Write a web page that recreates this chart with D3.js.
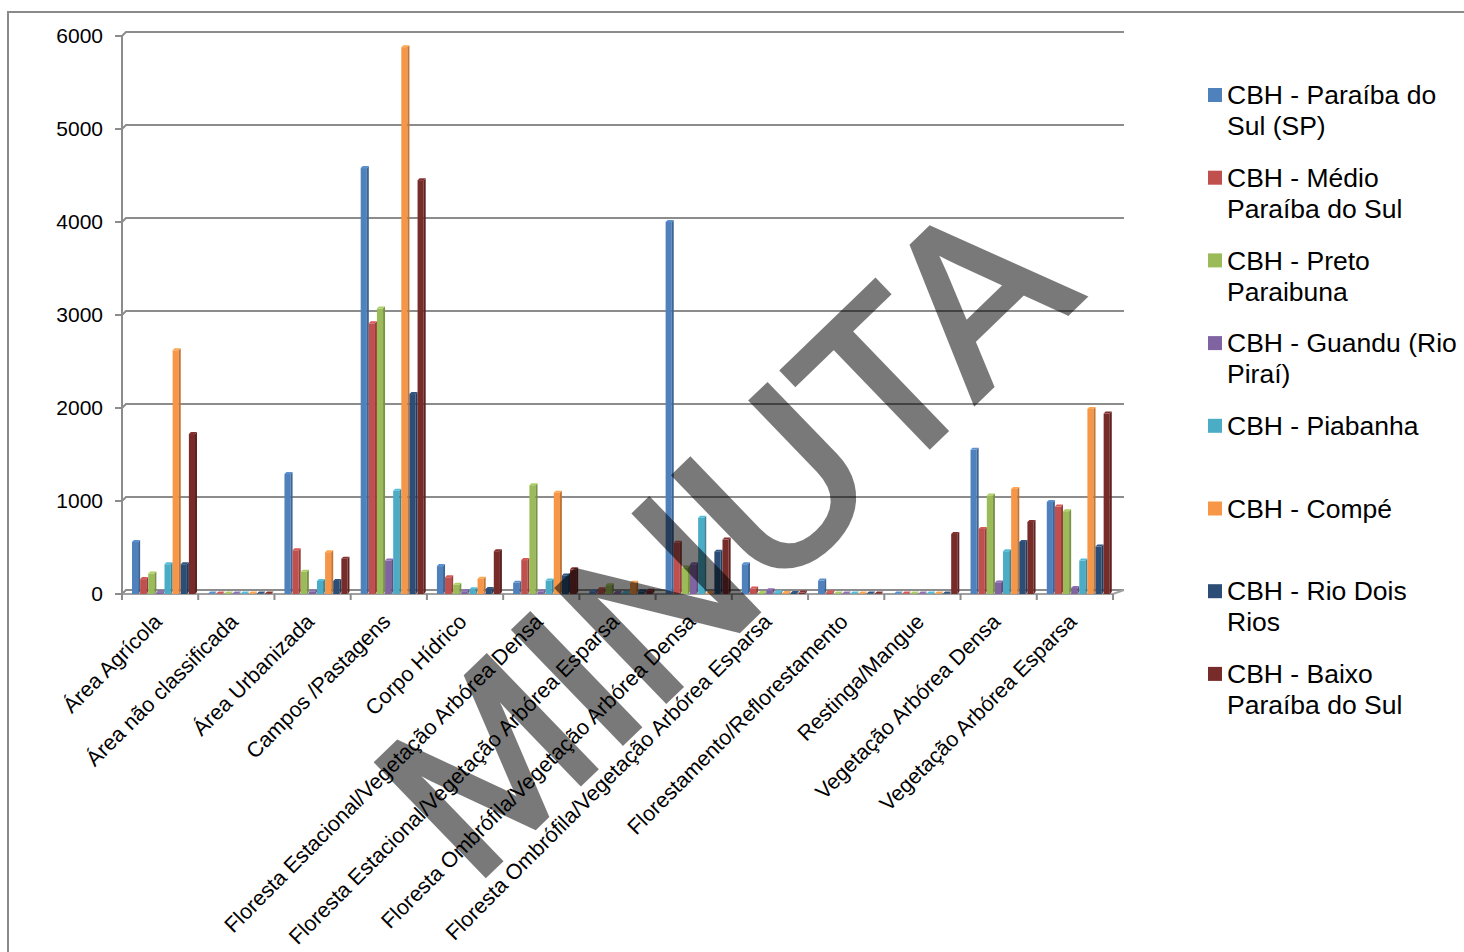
<!DOCTYPE html>
<html>
<head>
<meta charset="utf-8">
<script src="https://cdn.jsdelivr.net/npm/d3@7"></script>
<style>
  html, body { margin: 0; padding: 0; background: #fff; }
  svg { display: block; font-family: "Liberation Sans", Arial, sans-serif; }
</style>
</head>
<body>
<div id="chart"></div>
<script>
const categories= [
  'Área Agrícola',
  'Área não classificada',
  'Área Urbanizada',
  'Campos /Pastagens',
  'Corpo Hídrico',
  'Floresta Estacional/Vegetação Arbórea Densa',
  'Floresta Estacional/Vegetação Arbórea Esparsa',
  'Floresta Ombrófila/Vegetação Arbórea Densa',
  'Floresta Ombrófila/Vegetação Arbórea Esparsa',
  'Florestamento/Reflorestamento',
  'Restinga/Mangue',
  'Vegetação Arbórea Densa',
  'Vegetação Arbórea Esparsa',
];

const seriesNames= [
  ['CBH - Paraíba do', 'Sul (SP)'],
  ['CBH - Médio', 'Paraíba do Sul'],
  ['CBH - Preto', 'Paraibuna'],
  ['CBH - Guandu (Rio', 'Piraí)'],
  ['CBH - Piabanha'],
  ['CBH - Compé'],
  ['CBH - Rio Dois', 'Rios'],
  ['CBH - Baixo', 'Paraíba do Sul'],
];

const seriesColors= ['#4f81bd', '#c0504d', '#9bbb59', '#8064a2', '#4bacc6', '#f79646', '#2c4d75', '#772c2a'];

const paraibaSP=  [560, 5, 1290, 4580, 300, 120, 30, 4000, 320, 145, 5, 1550, 990];
const medio=      [160, 5, 470, 2910, 180, 365, 50, 550, 60, 20, 5, 700, 940];
const pretoParai= [220, 5, 240, 3070, 100, 1170, 95, 285, 10, 5, 5, 1060, 890];
const guandu=     [20, 5, 25, 360, 30, 25, 10, 320, 40, 5, 5, 125, 65];
const piabanha=   [320, 5, 140, 1110, 50, 145, 10, 820, 20, 5, 5, 460, 360];
const compe=      [2620, 5, 450, 5880, 165, 1090, 120, 10, 10, 5, 5, 1130, 1990];
const rioDois=    [320, 5, 140, 2150, 55, 200, 30, 455, 10, 5, 5, 560, 510];
const baixo=      [1720, 5, 380, 4450, 460, 265, 35, 585, 15, 5, 645, 775, 1940];

const seriesValues= [paraibaSP, medio, pretoParai, guandu, piabanha, compe, rioDois, baixo];

const yTicks= [0, 1000, 2000, 3000, 4000, 5000, 6000];

const W= 1464, H= 952;
const DEPTH= 4;   // 3D wall offset
const BAR_D= 2;   // bar side depth

const svg= d3.select('#chart').append('svg')
  .attr('width', W).attr('height', H);

// outer frame
svg.append('path')
  .attr('d', `M8,${H} L8,12 L${W},12`)
  .attr('fill', 'none').attr('stroke', '#8a8a8a').attr('stroke-width', 2);

const xSc= d3.scaleBand().domain(categories).range([122, 1113]);
const inner= d3.scaleBand().domain(d3.range(seriesValues.length)).range([10, 75]);
const ySc= d3.scaleLinear().domain([0, 6000]).range([594, 36]);

const x0= xSc.range()[0], x1= xSc.range()[1];

// back wall gridlines
const grid= svg.append('g');
for (const v of yTicks) {
  const y= ySc(v);
  grid.append('path')
    .attr('d', `M${x0-7},${y} L${x0},${y} L${x0+DEPTH},${y-DEPTH} L${x1+11},${y-DEPTH}`)
    .attr('fill', 'none').attr('stroke', '#8c8c8c').attr('stroke-width', 2);
}
// floor
svg.append('path')
  .attr('d', `M${x0},${ySc(0)} L${x1},${ySc(0)} L${x1+11},${ySc(0)-DEPTH}`)
  .attr('fill', 'none').attr('stroke', '#a0a0a0').attr('stroke-width', 2);
// y axis line
svg.append('line')
  .attr('x1', x0).attr('x2', x0)
  .attr('y1', ySc(6000)).attr('y2', ySc(0))
  .attr('stroke', '#8c8c8c').attr('stroke-width', 2);

// x ticks at category boundaries
const tickG= svg.append('g');
const bounds= categories.map(c => xSc(c)).concat([x1]);
for (const x of bounds) {
  tickG.append('line')
    .attr('x1', x).attr('x2', x).attr('y1', ySc(0)).attr('y2', ySc(0)+6)
    .attr('stroke', '#8c8c8c').attr('stroke-width', 2);
}

// y labels
svg.append('g')
  .attr('transform', `translate(${x0},0)`)
  .call(d3.axisLeft(ySc).tickValues(yTicks).tickSize(0).tickPadding(19).tickFormat(d3.format('d')))
  .call(a => a.select('.domain').remove())
  .selectAll('text')
    .attr('font-family', '"Liberation Sans", Arial, sans-serif')
    .attr('font-size', 21)
    .attr('fill', '#000');

// bars with a bit of 3D
const bars= svg.append('g');
seriesValues.forEach((vals, si) => {
  const col= d3.color(seriesColors[si]);
  const side= col.darker(0.7).formatHex();
  const top= col.brighter(0.3).formatHex();
  vals.forEach((v, ci) => {
    const bx= xSc(categories[ci])+inner(si);
    const bw= inner.bandwidth()-BAR_D;
    const by= ySc(v);
    const b0= ySc(0);
    const g= bars.append('g');
    g.append('rect')
      .attr('x', bx).attr('y', by)
      .attr('width', bw).attr('height', b0-by)
      .attr('fill', seriesColors[si]);
    g.append('path')
      .attr('d', `M${bx+bw},${by} L${bx+bw+BAR_D},${by-BAR_D} L${bx+bw+BAR_D},${b0-BAR_D} L${bx+bw},${b0} Z`)
      .attr('fill', side);
    g.append('path')
      .attr('d', `M${bx},${by} L${bx+BAR_D},${by-BAR_D} L${bx+bw+BAR_D},${by-BAR_D} L${bx+bw},${by} Z`)
      .attr('fill', top);
  });
});

// category labels
const catG= svg.append('g');
categories.forEach(c => {
  const cx= xSc(c)+xSc.bandwidth()/2;
  catG.append('text')
    .attr('transform', `translate(${cx+3},${ySc(0)+29}) rotate(-45)`)
    .attr('text-anchor', 'end')
    .attr('font-size', 21.5)
    .attr('fill', '#000')
    .text(c);
});

// legend
const lg= svg.append('g');
seriesNames.forEach((lines, i) => {
  const ly= 95+i*82.7;
  lg.append('rect')
    .attr('x', 1208).attr('y', ly-7)
    .attr('width', 14).attr('height', 14)
    .attr('fill', seriesColors[i]);
  lines.forEach((t, j) => {
    lg.append('text')
      .attr('x', 1227).attr('y', ly+31*j)
      .attr('dy', '0.35em')
      .attr('font-size', 26.5)
      .attr('fill', '#000')
      .text(t);
  });
});

// watermark
svg.append('text')
  .attr('transform', 'translate(778,592) rotate(-44)')
  .attr('text-anchor', 'middle')
  .attr('font-size', 226)
  .attr('fill', '#000')
  .attr('stroke', '#000')
  .attr('stroke-width', 6)
  .attr('stroke-linejoin', 'miter')
  .attr('opacity', 0.52)
  .text('MINUTA');
</script>
</body>
</html>
